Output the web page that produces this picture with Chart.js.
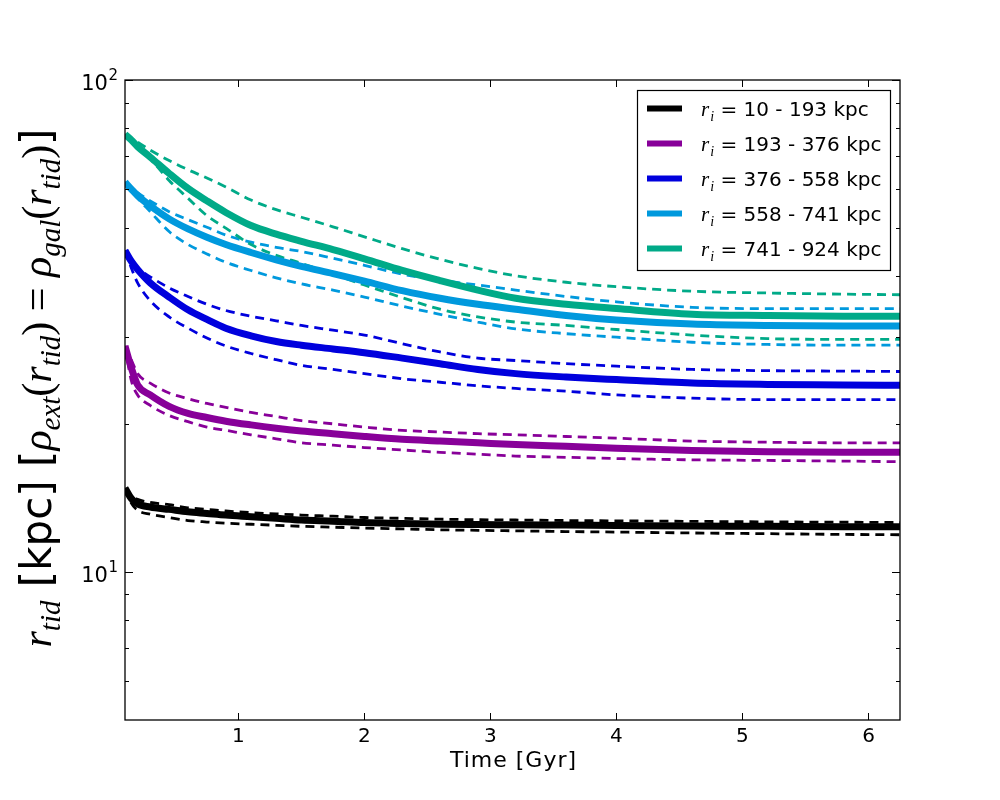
<!DOCTYPE html>
<html>
<head>
<meta charset="utf-8">
<script src="https://cdn.jsdelivr.net/npm/chart.js@4/dist/chart.umd.min.js"></script>
<style>
  html, body { margin: 0; padding: 0; background: #fff; }
  #wrap { width: 1000px; height: 800px; }
</style>
</head>
<body>
<div id="wrap"><canvas id="c" width="1000" height="800"></canvas></div>
<script>
// ---- data ----
const times = [0.1, 0.15, 0.2, 0.3, 0.45, 0.6, 0.75, 0.9, 1.1, 1.3, 1.5, 1.75, 2.0, 2.3, 2.6, 2.9, 3.2, 3.6, 4.0, 4.6, 5.2, 5.8, 6.25];

const blackMid = [14.8,14.1,13.75,13.55,13.4,13.25,13.15,13.05,12.95,12.85,12.75,12.68,12.6,12.55,12.5,12.48,12.47,12.45,12.43,12.4,12.38,12.35,12.35];
const blackHi  = [14.8,14.3,14.05,13.85,13.7,13.5,13.4,13.3,13.2,13.12,13.05,12.98,12.9,12.85,12.8,12.77,12.75,12.72,12.7,12.67,12.64,12.62,12.6];
const blackLo  = [14.8,13.8,13.35,13.1,12.9,12.72,12.63,12.56,12.5,12.44,12.38,12.33,12.28,12.23,12.18,12.15,12.12,12.08,12.05,12.0,11.96,11.92,11.9];

const purpleMid = [28.8,26.0,24.0,22.9,21.7,21.0,20.6,20.25,19.9,19.6,19.35,19.1,18.85,18.6,18.45,18.3,18.15,18.0,17.85,17.65,17.55,17.5,17.5];
const purpleHi  = [28.8,27.0,25.3,24.2,23.1,22.5,22.0,21.6,21.1,20.7,20.3,20.0,19.7,19.4,19.25,19.1,19.0,18.85,18.7,18.45,18.35,18.3,18.3];
const purpleLo  = [28.8,24.5,22.9,21.8,20.8,20.2,19.7,19.4,19.0,18.65,18.3,18.1,17.9,17.7,17.5,17.35,17.2,17.1,17.0,16.9,16.85,16.8,16.75];

const blueMid = [45.0,42.8,41.2,38.7,36.2,34.1,32.6,31.3,30.2,29.4,28.9,28.4,27.9,27.2,26.5,25.8,25.3,24.9,24.6,24.2,24.05,24.0,23.95];
const blueHi  = [45.0,43.0,41.5,39.8,37.8,36.3,35.0,34.0,33.1,32.4,31.7,31.0,30.3,29.1,28.0,27.2,26.9,26.5,26.2,25.8,25.65,25.6,25.55];
const blueLo  = [45.0,41.5,38.7,35.6,33.0,31.3,29.9,28.8,27.8,27.0,26.3,25.8,25.3,24.7,24.3,23.9,23.6,23.3,22.9,22.55,22.4,22.4,22.4];

const lblueMid = [62.0,60.0,58.2,55.5,52.2,49.8,47.9,46.3,44.6,43.1,41.8,40.4,39.0,37.3,36.0,35.0,34.2,33.2,32.5,31.9,31.7,31.6,31.6];
const lblueHi  = [62.0,60.5,59.0,56.8,54.0,52.0,50.2,48.4,46.8,45.7,44.8,43.4,42.0,40.3,39.2,38.3,37.4,36.3,35.4,34.5,34.3,34.3,34.3];
const lblueLo  = [62.0,59.5,57.5,54.0,49.2,46.3,44.3,42.6,41.0,39.6,38.5,37.4,36.2,34.7,33.4,32.2,31.2,30.5,30.0,29.3,29.0,28.9,28.9];

const greenMid = [77.5,75.5,73.2,69.7,64.6,60.2,56.8,53.8,50.6,48.6,47.0,45.2,43.3,41.0,39.1,37.4,36.0,35.0,34.3,33.4,33.2,33.1,33.1];
const greenHi  = [77.5,76.0,74.8,72.0,68.6,65.7,63.2,60.6,57.0,54.5,52.6,50.3,48.0,45.4,43.2,41.4,40.0,38.8,38.0,37.2,36.9,36.7,36.6];
const greenLo  = [77.5,75.0,72.8,69.2,62.5,57.5,53.0,50.0,46.3,44.0,42.4,40.3,38.3,36.1,34.2,33.0,32.2,31.7,31.1,30.3,29.8,29.7,29.7];

const legendLabels = ['10 - 193 kpc', '193 - 376 kpc', '376 - 558 kpc', '558 - 741 kpc', '741 - 924 kpc'];
const groupColors = ['#000000', '#880099', '#0000dd', '#0099dd', '#00aa88'];
const groups = [
  [blackMid, blackHi, blackLo],
  [purpleMid, purpleHi, purpleLo],
  [blueMid, blueHi, blueLo],
  [lblueMid, lblueHi, lblueLo],
  [greenMid, greenHi, greenLo]
];
const xTickValues = [1, 2, 3, 4, 5, 6];
const yMajorValues = [10, 100];
const yMinorValues = [6, 7, 8, 9, 20, 30, 40, 50, 60, 70, 80, 90];
const yTickExp = { 10: '1', 100: '2' };

// ---- datasets ----
const datasets = [];
groups.forEach((g, gi) => {
  g.forEach((arr, k) => {
    const solid = k === 0;
    datasets.push({
      label: solid ? legendLabels[gi] : '',
      data: times.map((t, i) => ({ x: t, y: arr[i] })),
      borderColor: groupColors[gi],
      borderWidth: solid ? 7 : 2.8,
      borderDash: solid ? [] : [9, 6],
      borderCapStyle: 'butt',
      pointRadius: 0,
      fill: false,
      cubicInterpolationMode: 'monotone',
      clip: 0,
      order: (4 - gi) * 3 + (solid ? 0 : 1 + k)
    });
  });
});

// ---- decoration plugin: frame, inward ticks, y tick labels, legend, axis titles ----
const decor = {
  id: 'decor',
  afterDatasetsDraw(chart) {
    const { ctx, chartArea: a, scales: { x, y } } = chart;
    ctx.save();
    ctx.strokeStyle = '#000';
    ctx.lineWidth = 1;
    const seg = (x1, y1, x2, y2) => { ctx.beginPath(); ctx.moveTo(x1, y1); ctx.lineTo(x2, y2); ctx.stroke(); };
    xTickValues.forEach(v => {
      const p = Math.round(x.getPixelForValue(v)) + 0.5;
      seg(p, a.bottom, p, a.bottom - 7);
      seg(p, a.top, p, a.top + 7);
    });
    yMajorValues.forEach(v => {
      const p = Math.round(y.getPixelForValue(v)) + 0.5;
      seg(a.left, p, a.left + 8, p);
      seg(a.right, p, a.right - 8, p);
    });
    yMinorValues.forEach(v => {
      const p = Math.round(y.getPixelForValue(v)) + 0.5;
      seg(a.left, p, a.left + 4, p);
      seg(a.right, p, a.right - 4, p);
    });
    ctx.lineWidth = 1.3;
    ctx.strokeRect(a.left, a.top, a.right - a.left, a.bottom - a.top);

    // y tick labels: 10^n with a raised exponent
    ctx.fillStyle = '#000';
    ctx.textBaseline = 'alphabetic';
    ctx.textAlign = 'right';
    yMajorValues.forEach(v => {
      const p = y.getPixelForValue(v);
      const rx = a.left - 7;
      ctx.font = '15px "DejaVu Sans"';
      const ew = ctx.measureText(yTickExp[v]).width;
      ctx.fillText(yTickExp[v], rx, p + 0);
      ctx.font = '21px "DejaVu Sans"';
      ctx.fillText('10', rx - ew - 0.5, p + 10);
    });

    // legend
    const bw = 253, bh = 180;
    const bx = a.right - 10 - bw, by = a.top + 10;
    ctx.fillStyle = '#fff';
    ctx.fillRect(bx, by, bw, bh);
    ctx.lineWidth = 1.2;
    ctx.strokeStyle = '#000';
    ctx.strokeRect(bx + 0.5, by + 0.5, bw, bh);
    legendLabels.forEach((lab, i) => {
      const ry = by + 18.5 + i * 35;
      ctx.strokeStyle = groupColors[i];
      ctx.lineWidth = 6;
      ctx.setLineDash([]);
      seg(bx + 10, ry, bx + 45, ry);
      ctx.fillStyle = '#000';
      ctx.textBaseline = 'alphabetic';
      ctx.textAlign = 'left';
      let tx = bx + 64;
      const base = ry + 7;
      ctx.font = 'italic 21px "Liberation Serif"';
      ctx.fillText('r', tx, base);
      tx += ctx.measureText('r').width + 1;
      ctx.font = 'italic 14px "Liberation Serif"';
      ctx.fillText('i', tx, base + 5);
      tx += ctx.measureText('i').width;
      ctx.font = '20px "DejaVu Sans"';
      ctx.fillText(' = ' + lab, tx, base);
    });

    // x-axis title
    ctx.fillStyle = '#000';
    ctx.font = '22px "DejaVu Sans"';
    ctx.textAlign = 'center';
    ctx.textBaseline = 'alphabetic';
    ctx.letterSpacing = '1px';
    ctx.fillText('Time [Gyr]', (a.left + a.right) / 2 + 1, 767);
    ctx.letterSpacing = '0px';

    // y-axis title (rotated, mixed fonts)
    const S = 42, s = 29, sub = 9;
    const mi = 'italic ' + S + 'px "Liberation Serif"';
    const ms = 'italic ' + s + 'px "Liberation Serif"';
    const mr = S + 'px "Liberation Serif"';
    const sans = S + 'px "DejaVu Sans"';
    const runs = [
      { t: 'r', f: mi }, { t: 'tid', f: ms, dy: sub },
      { t: ' [kpc] ', f: sans },
      { t: '[', f: sans },
      { t: '\u03C1', f: mi }, { t: 'ext', f: ms, dy: sub },
      { t: '(', f: mr }, { t: 'r', f: mi }, { t: 'tid', f: ms, dy: sub }, { t: ')', f: mr },
      { t: ' = ', f: mr },
      { t: '\u03C1', f: mi }, { t: 'gal', f: ms, dy: sub },
      { t: '(', f: mr }, { t: 'r', f: mi }, { t: 'tid', f: ms, dy: sub }, { t: ')', f: mr },
      { t: ']', f: sans }
    ];
    let total = 0;
    runs.forEach(r => { ctx.font = r.f; r.w = ctx.measureText(r.t).width; total += r.w; });
    ctx.translate(51, (a.top + a.bottom) / 2 - 12);
    ctx.rotate(-Math.PI / 2);
    ctx.textAlign = 'left';
    let cx = -total / 2;
    runs.forEach(r => { ctx.font = r.f; ctx.fillText(r.t, cx, r.dy || 0); cx += r.w; });
    ctx.restore();
  }
};

new Chart(document.getElementById('c'), {
  type: 'line',
  data: { datasets },
  options: {
    responsive: false,
    animation: false,
    devicePixelRatio: 1,
    layout: { padding: { left: 0, right: 100, top: 80, bottom: 0 } },
    plugins: { legend: { display: false }, tooltip: { enabled: false }, title: { display: false } },
    scales: {
      x: {
        type: 'linear',
        min: 0.1,
        max: 6.25,
        grid: { display: false, drawTicks: false },
        border: { display: false },
        afterBuildTicks: sc => { sc.ticks = xTickValues.map(v => ({ value: v })); },
        afterFit: sc => { sc.height = 80; },
        ticks: {
          color: '#000',
          padding: 5,
          maxRotation: 0,
          font: { family: 'DejaVu Sans', size: 20 },
          callback: v => String(v)
        }
      },
      y: {
        type: 'logarithmic',
        min: 5,
        max: 100,
        grid: { display: false, drawTicks: false },
        border: { display: false },
        afterBuildTicks: sc => { sc.ticks = yMajorValues.map(v => ({ value: v })); },
        afterFit: sc => { sc.width = 125; },
        ticks: { display: false }
      }
    }
  },
  plugins: [decor]
});
</script>
</body>
</html>
